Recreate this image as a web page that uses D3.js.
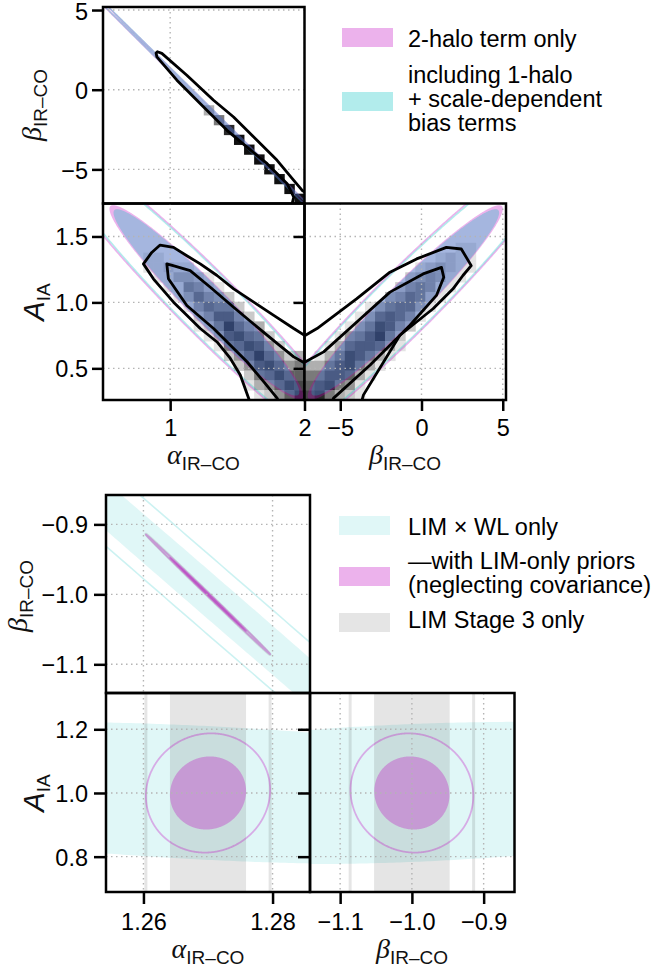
<!DOCTYPE html>
<html><head><meta charset="utf-8">
<script src="https://cdn.jsdelivr.net/npm/d3@7/dist/d3.min.js"></script>
<style>
body{margin:0;background:#fff}
svg{display:block}
.grid{stroke:#b4b4b4;stroke-width:1.4;stroke-dasharray:1.5 3.5;fill:none}
</style>
</head><body>
<svg id="chart" width="657" height="971"></svg>
<script>
// ---------------- DATA ----------------
// parameter order: [alpha_IR-CO, beta_IR-CO, A_IA]; correlation order: [alpha-beta, alpha-A, beta-A]
const fidTop = [1.27, -1.0, 1.0];
const sigmaTwoHalo = [0.475, 3.95, 0.485];
const corrTwoHalo = [-0.9999, -0.962, 0.962];
const sigmaOneHalo = [0.455, 3.80, 0.465];
const corrOneHalo = [-0.9999, -0.962, 0.962];

const fidBot = [1.27, -1.0, 1.0];
const sigmaLimWL = [0.050, 0.400, 0.147];
const corrLimWL = [-0.9983, -0.34, 0.245];
const sigmaLimPrior = [0.00388, 0.0345, 0.0755];
const corrLimPrior = [-0.9995, 0.05, -0.05];
const sigmaLim3 = [0.00388, 0.0347, 5.0];
const corrLim3 = [-0.9995, 0.0, 0.0];

// 2D sample histograms (rows top->bottom, 20 columns left->right, 0-9 density)
const histAlphaBeta = [
"00000000000000000000","00000000000000000000","00000000000000000000","00000000000000000000",
"00000000000000000000","00000000000000000000","00000000000000000000","00000000000000000000",
"00000000000000000000","00000000000000000000","00000000003000000000","00000000000500000000",
"00000000000080000000","00000000000009000000","00000000000000900000","00000000000000090000",
"00000000000000009000","00000000000000000900","00000000000000000090","00000000000000000009"];
const histAlphaA = [
"00000000000000000000","00000000000000000000","00000000000000000000","00000000000000000000",
"00000000000000000000","00001100000000000000","00001121100000000000","00000113321000000000",
"00000011542100000000","00000001364320000000","00000000146552000000","00000000024774200000",
"00000000012596430000","00000000001378652000","00000000000156874200","00000000000024696423",
"00000000000002478645","00000000000000256866","00000000000000134687","00000000000000012468"];
const histBetaA = [
"00000000000000000000","00000000000000000000","00000000000000000000","00000000000000000000",
"00000000000000011000","00000000000001211000","00000000000123211000","00000000002343110000",
"00000000024541100000","00000000346521000000","00000013566310000000","00000136764100000000",
"00001358742000000000","00014579520000000000","00136776310000000000","01358753100000000000",
"33578531000000000000","55776310000000000000","67854100000000000000","78532100000000000000"];

// sample contours (black lines)
const contourAlphaBeta = [[1.90,-7.4],[1.920,-6.74],[1.871,-5.90],[1.722,-4.64],[1.572,-3.60],[1.423,-2.55],[1.249,-1.08],[1.05,0.60],[0.901,2.06],[0.895,2.30],[0.905,2.38],[0.938,2.28],[1.124,0.91],[1.323,-0.66],[1.472,-1.71],[1.622,-2.97],[1.796,-4.43],[1.920,-5.69],[1.983,-6.32],[2.06,-6.7]];
const contourAlphaAOuter = [[1.60,0.22],[1.584,0.274],[1.522,0.449],[1.448,0.575],[1.349,0.700],[1.224,0.802],[1.124,0.902],[1.025,1.002],[0.875,1.179],[0.801,1.292],[0.863,1.379],[0.925,1.435],[1.025,1.417],[1.124,1.354],[1.224,1.292],[1.349,1.204],[1.473,1.103],[1.622,1.002],[1.771,0.902],[1.920,0.802],[2.0,0.751],[2.06,0.72]];
const contourAlphaAInner = [[1.82,0.22],[1.796,0.274],[1.696,0.399],[1.572,0.55],[1.323,0.802],[1.124,0.977],[0.987,1.179],[0.975,1.292],[1.022,1.279],[1.149,1.241],[1.299,1.115],[1.470,0.965],[1.647,0.814],[1.796,0.689],[1.920,0.587],[1.995,0.545],[2.06,0.52]];
const contourBetaAOuter = [[-7.4,0.74],[-7.14,0.751],[-6.43,0.802],[-3.98,1.028],[-1.94,1.229],[-0.30,1.330],[1.53,1.417],[2.45,1.405],[3.06,1.279],[2.55,1.204],[1.94,1.103],[0.71,0.952],[-1.33,0.751],[-3.57,0.299],[-3.75,0.22]];
const contourBetaAInner = [[-7.4,0.54],[-7.14,0.55],[-6.02,0.625],[-3.98,0.851],[-1.94,1.078],[0.10,1.216],[1.23,1.266],[1.37,1.191],[0.92,1.053],[-0.71,0.827],[-3.16,0.525],[-5.41,0.274],[-5.6,0.22]];

// ticks
const ticksAlphaTop = [1, 2], labelsAlphaTop = ["1", "2"];
const ticksBetaTop = [-5, 0, 5], labelsBetaTop = ["\u22125", "0", "5"];
const ticksATop = [0.5, 1.0, 1.5], labelsATop = ["0.5", "1.0", "1.5"];
const ticksAlphaBot = [1.26, 1.28], labelsAlphaBot = ["1.26", "1.28"];
const ticksBetaBot = [-1.1, -1.0, -0.9], labelsBetaBot = ["\u22121.1", "\u22121.0", "\u22120.9"];
const ticksABot = [0.8, 1.0, 1.2], labelsABot = ["0.8", "1.0", "1.2"];

const legendTop = ["2-halo term only", "including 1-halo|+ scale-dependent|bias terms"];
const legendBot = ["LIM \u00d7 WL only", "\u2014with LIM-only priors|(neglecting covariance)", "LIM Stage 3 only"];

// ---------------- DRAWING ----------------
const FONT = "'Liberation Sans', Arial, Helvetica, sans-serif";
const SERIF = "'Liberation Serif', 'DejaVu Serif', serif";
const K1 = 1.52, K2 = 2.48;
const PINK = "rgba(191,0,191,0.3)", CYAN = "rgba(0,191,191,0.3)";
const CYAN_L = "rgba(0,191,191,0.12)", CYAN_LINE = "rgba(0,191,191,0.2)", GREY = "rgba(0,0,0,0.1)";

const svg = d3.select("#chart");
const defs = svg.append("defs");
let clipN = 0;

// scales
const xAlphaT = d3.scaleLinear().domain([0.5, 2.0]).range([103, 304.5]);
const xBetaT = d3.scaleLinear().domain([-7.2, 5.2]).range([304.5, 506]);
const yBetaT = d3.scaleLinear().domain([-7.14, 5.19]).range([203.5, 7]);
const yAT = d3.scaleLinear().domain([0.26, 1.75]).range([400, 203.5]);
const xAlphaB = d3.scaleLinear().domain([1.2542, 1.2858]).range([106, 310]);
const xBetaB = d3.scaleLinear().domain([-1.142, -0.857]).range([310, 514.5]);
const yBetaB = d3.scaleLinear().domain([-1.141, -0.858]).range([693, 495]);
const yAB = d3.scaleLinear().domain([0.689, 1.314]).range([892, 693]);

function panel(xs, ys) {
  const id = "clip" + (clipN++);
  const [x0, x1] = xs.range(), [y1, y0] = ys.range();
  defs.append("clipPath").attr("id", id).append("rect")
    .attr("x", x0).attr("y", y0).attr("width", x1 - x0).attr("height", y1 - y0);
  return svg.append("g").attr("clip-path", `url(#${id})`);
}
function frame(xs, ys) {
  const [x0, x1] = xs.range(), [y1, y0] = ys.range();
  svg.append("rect").attr("x", x0).attr("y", y0).attr("width", x1 - x0).attr("height", y1 - y0)
    .attr("fill", "none").attr("stroke", "#000").attr("stroke-width", 2.5);
}
function greyOf(v) { const g = Math.round(255 * (1 - v / 9.6)); return `rgb(${g},${g},${g})`; }
function hist(g, grid, xs, ys) {
  const nr = grid.length, nc = grid[0].length;
  const [xa, xb] = xs.domain(), [ya, yb] = ys.domain();
  const cw = (xb - xa) / nc, rh = (yb - ya) / nr;
  grid.forEach((row, r) => row.split("").forEach((ch, c) => {
    const v = +ch; if (!v) return;
    const xl = xa + c * cw, yt = yb - r * rh;
    g.append("rect").attr("x", xs(xl)).attr("y", ys(yt))
      .attr("width", xs(xl + cw) - xs(xl) + 0.4).attr("height", ys(yt - rh) - ys(yt) + 0.4)
      .attr("fill", greyOf(v));
  }));
}
function ellipse(mx, my, sx, sy, rho, k) {
  const n = 720, pts = [];
  const l21 = rho * sy, l22 = sy * Math.sqrt(1 - rho * rho);
  for (let i = 0; i < n; i++) {
    const t = 2 * Math.PI * i / n, u = Math.cos(t), v = Math.sin(t);
    pts.push([mx + k * sx * u, my + k * (l21 * u + l22 * v)]);
  }
  return pts;
}
function forecast(g, xs, ys, i, j, ci, fid, sig, cor, k, fill, stroke, sw) {
  const pts = ellipse(fid[i], fid[j], sig[i], sig[j], cor[ci], k);
  g.append("path")
    .attr("d", d3.line().x(d => xs(d[0])).y(d => ys(d[1])).curve(d3.curveLinearClosed)(pts))
    .attr("fill", fill || "none").attr("stroke", stroke || "none").attr("stroke-width", sw || 0);
}
function gridlines(g, xs, ys, xt, yt) {
  const [x0, x1] = xs.range(), [y1, y0] = ys.range();
  xt.forEach(v => g.append("line").attr("class", "grid").attr("x1", xs(v)).attr("x2", xs(v)).attr("y1", y0).attr("y2", y1));
  yt.forEach(v => g.append("line").attr("class", "grid").attr("y1", ys(v)).attr("y2", ys(v)).attr("x1", x0).attr("x2", x1));
}
function contour(g, xs, ys, pts) {
  g.append("path").attr("d", d3.line().x(d => xs(d[0])).y(d => ys(d[1]))(pts))
    .attr("fill", "none").attr("stroke", "#000").attr("stroke-width", 2.8)
    .attr("stroke-linejoin", "round");
}
function axis(gen, tx, ty, vals, labels, tsize, pad, show, dy) {
  const a = gen.tickValues(vals).tickSize(tsize).tickPadding(pad)
    .tickFormat((d, i) => show ? labels[i] : "");
  const g = svg.append("g").attr("transform", `translate(${tx},${ty})`).call(a);
  g.select(".domain").remove();
  g.selectAll(".tick line").attr("stroke", "#000").attr("stroke-width", 2.5);
  const t = g.selectAll(".tick text").attr("font-family", FONT).attr("font-size", 23.5).attr("fill", "#000");
  if (dy) t.attr("dy", dy);
}
function label(x, y, main, sub, rot, family, size) {
  const t = svg.append("text")
    .attr("transform", `translate(${x},${y})` + (rot ? " rotate(-90)" : ""))
    .attr("text-anchor", "middle").attr("fill", "#111");
  t.append("tspan").attr("font-family", family).attr("font-style", "italic").attr("font-size", size).text(main);
  t.append("tspan").attr("font-family", FONT).attr("font-size", 19).attr("dy", 6).text(sub);
}
function legend(entries, colors, patchX, patchYs, baselines) {
  entries.forEach((e, i) => {
    svg.append("rect").attr("x", patchX).attr("y", patchYs[i]).attr("width", 51).attr("height", 19)
      .attr("fill", colors[i]);
    e.split("|").forEach((line, j) => {
      svg.append("text").attr("x", 408).attr("y", baselines[i][j])
        .attr("font-family", FONT).attr("font-size", 23.5).attr("fill", "#000").text(line);
    });
  });
}

// ---------- TOP BLOCK ----------
const topPanels = [
  {xs: xAlphaT, ys: yBetaT, i: 0, j: 1, c: 0, h: histAlphaBeta, xt: ticksAlphaTop, yt: ticksBetaTop, cont: [contourAlphaBeta]},
  {xs: xAlphaT, ys: yAT, i: 0, j: 2, c: 1, h: histAlphaA, xt: ticksAlphaTop, yt: ticksATop, cont: [contourAlphaAOuter, contourAlphaAInner]},
  {xs: xBetaT, ys: yAT, i: 1, j: 2, c: 2, h: histBetaA, xt: ticksBetaTop, yt: ticksATop, cont: [contourBetaAOuter, contourBetaAInner]}
];
topPanels.forEach(p => {
  const g = panel(p.xs, p.ys);
  hist(g, p.h, p.xs, p.ys);
  forecast(g, p.xs, p.ys, p.i, p.j, p.c, fidTop, sigmaTwoHalo, corrTwoHalo, K1, PINK, null, 0);
  forecast(g, p.xs, p.ys, p.i, p.j, p.c, fidTop, sigmaOneHalo, corrOneHalo, K1, CYAN, null, 0);
  forecast(g, p.xs, p.ys, p.i, p.j, p.c, fidTop, sigmaTwoHalo, corrTwoHalo, K2, null, PINK, 1.6);
  forecast(g, p.xs, p.ys, p.i, p.j, p.c, fidTop, sigmaOneHalo, corrOneHalo, K2, null, CYAN, 1.6);
  gridlines(g, p.xs, p.ys, p.xt, p.yt);
  p.cont.forEach(c => contour(g, p.xs, p.ys, c));
  frame(p.xs, p.ys);
});
axis(d3.axisLeft(yBetaT), 103, 0, ticksBetaTop, labelsBetaTop, 11, 4, true, "0.39em");
axis(d3.axisLeft(yAT), 103, 0, ticksATop, labelsATop, 11, 4, true, "0.36em");
axis(d3.axisLeft(yAT), 304.5, 0, ticksATop, labelsATop, 11, 4, false);
axis(d3.axisBottom(xAlphaT), 0, 400, ticksAlphaTop, labelsAlphaTop, 11, 8, true);
axis(d3.axisBottom(xBetaT), 0, 400, ticksBetaTop, labelsBetaTop, 11, 8, true);
label(41, 105, "\u03b2", "IR\u2013CO", true, SERIF, 28);
label(44, 302, "A", "IA", true, FONT, 29);
label(203.5, 464, "\u03b1", "IR\u2013CO", false, SERIF, 28);
label(405, 464, "\u03b2", "IR\u2013CO", false, SERIF, 28);
legend(legendTop, [PINK, CYAN], 342, [28, 92],
  [[46.7], [82.5, 106.5, 131]]);

// ---------- BOTTOM BLOCK ----------
const botPanels = [
  {xs: xAlphaB, ys: yBetaB, i: 0, j: 1, c: 0, xt: ticksAlphaBot, yt: ticksBetaBot},
  {xs: xAlphaB, ys: yAB, i: 0, j: 2, c: 1, xt: ticksAlphaBot, yt: ticksABot},
  {xs: xBetaB, ys: yAB, i: 1, j: 2, c: 2, xt: ticksBetaBot, yt: ticksABot}
];
botPanels.forEach(p => {
  const g = panel(p.xs, p.ys);
  forecast(g, p.xs, p.ys, p.i, p.j, p.c, fidBot, sigmaLimWL, corrLimWL, K1, CYAN_L, null, 0);
  forecast(g, p.xs, p.ys, p.i, p.j, p.c, fidBot, sigmaLimWL, corrLimWL, K2, null, CYAN_LINE, 1.6);
  forecast(g, p.xs, p.ys, p.i, p.j, p.c, fidBot, sigmaLim3, corrLim3, K1, GREY, null, 0);
  forecast(g, p.xs, p.ys, p.i, p.j, p.c, fidBot, sigmaLim3, corrLim3, K2, null, GREY, 3);
  forecast(g, p.xs, p.ys, p.i, p.j, p.c, fidBot, sigmaLimPrior, corrLimPrior, K1, PINK, p.c === 0 ? PINK : null, p.c === 0 ? 1.6 : 0);
  forecast(g, p.xs, p.ys, p.i, p.j, p.c, fidBot, sigmaLimPrior, corrLimPrior, K2, null, PINK, 1.8);
  gridlines(g, p.xs, p.ys, p.xt, p.yt);
  frame(p.xs, p.ys);
});
axis(d3.axisLeft(yBetaB), 106, 0, ticksBetaBot, labelsBetaBot, 12, 6, true, "0.36em");
axis(d3.axisLeft(yAB), 106, 0, ticksABot, labelsABot, 12, 6, true, "0.36em");
axis(d3.axisLeft(yAB), 310, 0, ticksABot, labelsABot, 12, 6, false);
axis(d3.axisBottom(xAlphaB), 0, 892, ticksAlphaBot, labelsAlphaBot, 12, 9, true);
axis(d3.axisBottom(xBetaB), 0, 892, ticksBetaBot, labelsBetaBot, 12, 9, true);
label(27, 596, "\u03b2", "IR\u2013CO", true, SERIF, 28);
label(44, 793, "A", "IA", true, FONT, 29);
label(208, 958, "\u03b1", "IR\u2013CO", false, SERIF, 28);
label(412, 958, "\u03b2", "IR\u2013CO", false, SERIF, 28);
legend(legendBot, [CYAN_L, PINK, GREY], 339, [516, 567, 613],
  [[535], [569, 593], [628]]);
</script>
</body></html>
